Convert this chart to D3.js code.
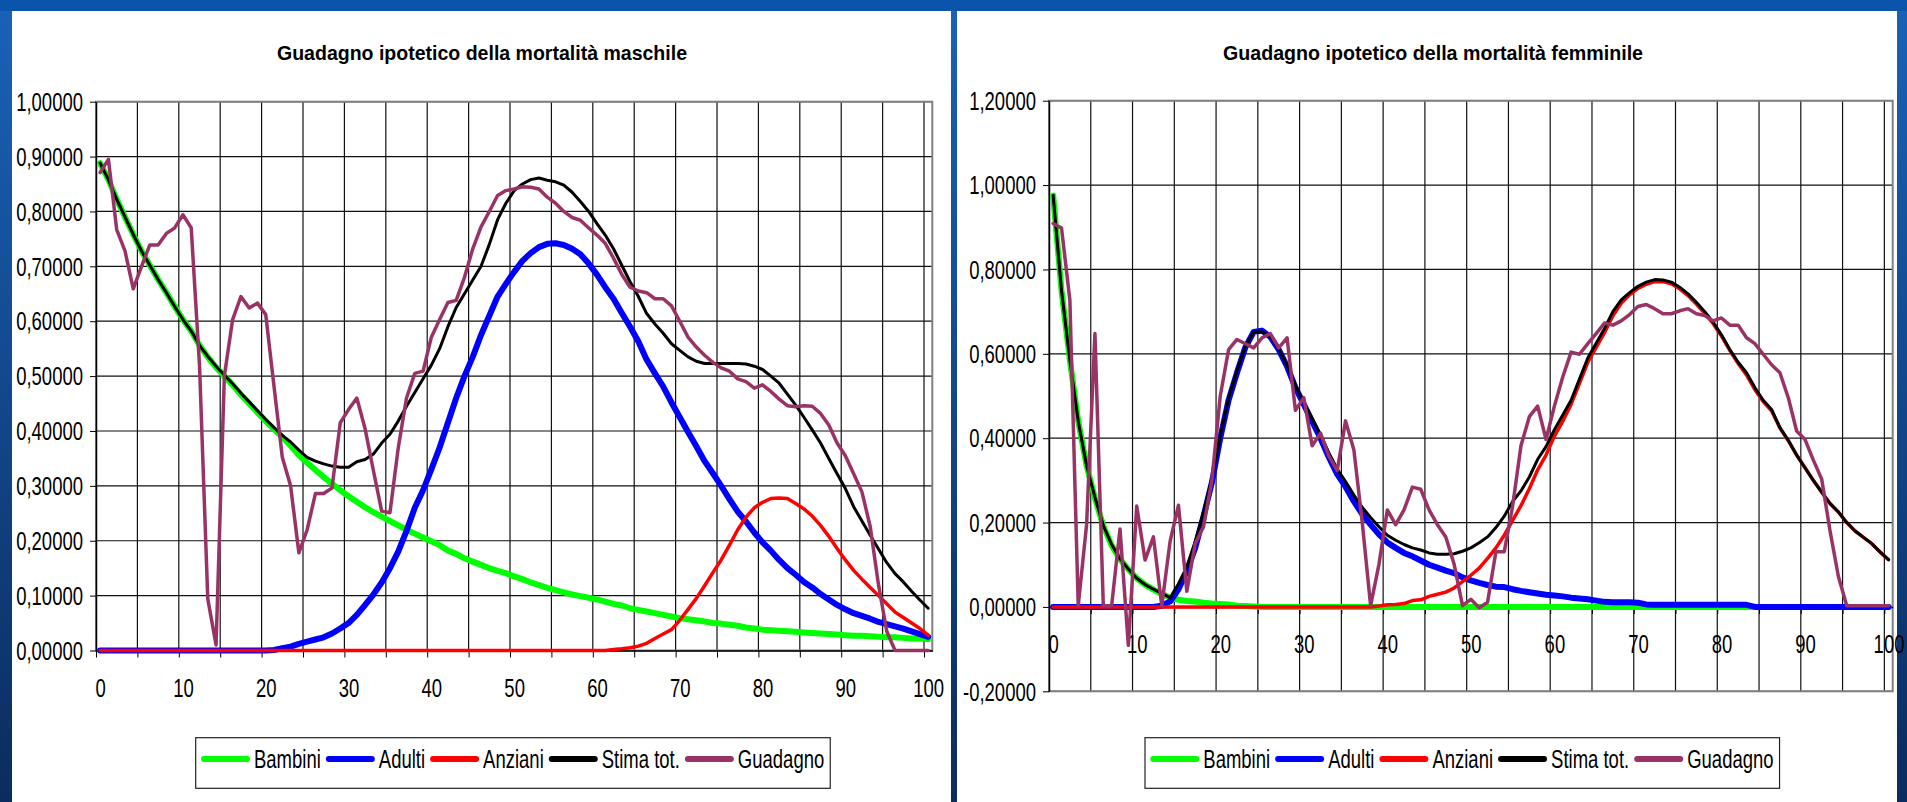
<!DOCTYPE html>
<html>
<head>
<meta charset="utf-8">
<script src="https://cdn.jsdelivr.net/npm/d3@7"></script>
<style>
  html, body { margin: 0; padding: 0; overflow: hidden; background: #0b4f9c; }
  svg { display: block; }
  text { font-family: "Liberation Sans", Arial, sans-serif; fill: #000; }
</style>
</head>
<body>
<svg id="chart" width="1907" height="802"></svg>
<script>
// età (categorie dell'asse x)
const ages = [
  0, 1, 2, 3, 4, 5, 6, 7, 8, 9,
  10, 11, 12, 13, 14, 15, 16, 17, 18, 19,
  20, 21, 22, 23, 24, 25, 26, 27, 28, 29,
  30, 31, 32, 33, 34, 35, 36, 37, 38, 39,
  40, 41, 42, 43, 44, 45, 46, 47, 48, 49,
  50, 51, 52, 53, 54, 55, 56, 57, 58, 59,
  60, 61, 62, 63, 64, 65, 66, 67, 68, 69,
  70, 71, 72, 73, 74, 75, 76, 77, 78, 79,
  80, 81, 82, 83, 84, 85, 86, 87, 88, 89,
  90, 91, 92, 93, 94, 95, 96, 97, 98, 99,
  100];
const xTickLabels = [0, 10, 20, 30, 40, 50, 60, 70, 80, 90, 100];
const yTicksM = [0, 0.1, 0.2, 0.3, 0.4, 0.5, 0.6, 0.7, 0.8, 0.9, 1.0];
const yTicksF = [-0.2, 0, 0.2, 0.4, 0.6, 0.8, 1.0, 1.2];
const seriesNames = ["Bambini", "Adulti", "Anziani", "Stima tot.", "Guadagno"];

// --- maschile ---
const bambiniM = [
  .888, .858, .822, .790, .758, .728, .702, .676, .652, .627,
  .603, .582, .556, .535, .516, .500, .484, .466, .450, .434,
  .418, .403, .389, .373, .356, .342, .329, .316, .304, .292,
  .281, .271, .261, .252, .244, .236, .228, .220, .213, .206,
  .199, .192, .182, .176, .168, .162, .156, .150, .145, .141,
  .135, .130, .124, .119, .114, .110, .106, .102, .099, .096,
  .093, .089, .085, .082, .077, .074, .071, .068, .065, .062,
  .059, .057, .055, .053, .050, .049, .047, .045, .042, .040,
  .038, .037, .036, .035, .034, .033, .032, .031, .030, .029,
  .028, .027, .027, .026, .025, .024, .024, .023, .022, .022,
  .021];
const adultiM = [
  0, 0, 0, 0, 0, 0, 0, 0, 0, 0,
  0, 0, 0, 0, 0, 0, 0, 0, 0, 0,
  0, .001, .004, .007, .012, .016, .020, .024, .031, .040,
  .050, .065, .083, .102, .124, .150, .180, .218, .260, .292,
  .330, .370, .415, .460, .500, .535, .575, .610, .645, .668,
  .690, .710, .724, .735, .741, .742, .739, .732, .722, .705,
  .685, .662, .641, .615, .590, .563, .530, .505, .481, .452,
  .425, .398, .372, .345, .323, .300, .276, .253, .235, .215,
  .197, .182, .165, .150, .138, .125, .115, .103, .093, .083,
  .075, .068, .063, .058, .052, .048, .044, .040, .035, .030,
  .025];
const anzianiM = [
  0, 0, 0, 0, 0, 0, 0, 0, 0, 0,
  0, 0, 0, 0, 0, 0, 0, 0, 0, 0,
  0, 0, 0, 0, 0, 0, 0, 0, 0, 0,
  0, 0, 0, 0, 0, 0, 0, 0, 0, 0,
  0, 0, 0, 0, 0, 0, 0, 0, 0, 0,
  0, 0, 0, 0, 0, 0, 0, 0, 0, 0,
  0, 0, .002, .003, .005, .008, .013, .022, .030, .038,
  .055, .075, .095, .118, .142, .165, .192, .220, .243, .260,
  .270, .277, .278, .277, .268, .258, .245, .228, .208, .186,
  .165, .146, .130, .115, .100, .085, .070, .060, .050, .040,
  .028];
const stimaM = [
  .888, .858, .822, .790, .758, .728, .702, .676, .652, .627,
  .603, .582, .556, .536, .518, .502, .486, .469, .453, .437,
  .421, .406, .392, .380, .365, .352, .345, .340, .336, .334,
  .334, .344, .348, .358, .378, .394, .418, .445, .470, .495,
  .520, .550, .590, .625, .650, .675, .700, .740, .785, .815,
  .838, .850, .858, .861, .857, .854, .848, .835, .818, .800,
  .778, .757, .732, .702, .672, .645, .614, .595, .578, .559,
  .547, .535, .527, .523, .523, .523, .523, .523, .522, .518,
  .512, .500, .487, .467, .447, .425, .402, .378, .350, .322,
  .295, .262, .236, .210, .185, .160, .140, .125, .108, .092,
  .077];
const guadagnoM = [
  .871, .895, .767, .728, .659, .700, .739, .739, .760, .770,
  .794, .770, .520, .094, .010, .500, .603, .645, .624, .633,
  .612, .481, .352, .300, .178, .220, .286, .286, .296, .415,
  .439, .460, .404, .328, .254, .251, .369, .460, .505, .509,
  .571, .603, .634, .638, .680, .732, .772, .800, .829, .838,
  .841, .845, .844, .841, .826, .815, .800, .789, .784, .770,
  .757, .742, .715, .685, .662, .655, .652, .641, .641, .628,
  .600, .571, .553, .538, .525, .515, .509, .495, .490, .478,
  .484, .472, .458, .446, .444, .446, .445, .432, .411, .378,
  .355, .322, .289, .226, .120, .035, 0, 0, 0, 0,
  0];

// --- femminile ---
const bambiniF = [
  .975, .750, .585, .440, .335, .258, .192, .146, .113, .089,
  .068, .053, .041, .031, .022, .017, .014, .013, .010, .008,
  .007, .006, .003, .002, .001, 0, 0, 0, 0, 0,
  0, 0, 0, 0, 0, 0, 0, 0, 0, 0,
  0, 0, 0, 0, 0, 0, 0, 0, 0, 0,
  0, 0, 0, 0, 0, 0, 0, 0, 0, 0,
  0, 0, 0, 0, 0, 0, 0, 0, 0, 0,
  0, 0, 0, 0, 0, 0, 0, 0, 0, 0,
  0, 0, 0, 0, 0, 0, 0, 0, 0, 0,
  0, 0, 0, 0, 0, 0, 0, 0, 0, 0,
  0];
const adultiF = [
  0, 0, 0, 0, 0, 0, 0, 0, 0, 0,
  0, 0, 0, .003, .013, .042, .085, .140, .215, .295,
  .400, .490, .555, .615, .652, .655, .640, .610, .570, .520,
  .480, .440, .400, .355, .315, .285, .250, .220, .195, .172,
  .153, .140, .128, .120, .110, .100, .093, .086, .080, .070,
  .063, .057, .052, .048, .047, .042, .038, .035, .032, .029,
  .027, .025, .022, .020, .018, .015, .012, .011, .011, .011,
  .010, .006, .005, .005, .005, .005, .005, .005, .005, .005,
  .005, .005, .005, .005, 0, 0, 0, 0, 0, 0,
  0, 0, 0, 0, 0, 0, 0, 0, 0, 0,
  0];
const anzianiF = [
  0, 0, 0, 0, 0, 0, 0, 0, 0, 0,
  0, 0, 0, 0, 0, 0, 0, 0, 0, 0,
  0, 0, 0, 0, 0, 0, 0, 0, 0, 0,
  0, 0, 0, 0, 0, 0, 0, 0, 0, .002,
  .005, .006, .008, .015, .017, .025, .030, .035, .045, .060,
  .075, .092, .115, .140, .170, .205, .240, .280, .325, .360,
  .405, .440, .480, .530, .580, .615, .650, .690, .720, .740,
  .755, .765, .771, .771, .766, .754, .738, .718, .696, .672,
  .642, .608, .577, .550, .515, .487, .465, .424, .394, .360,
  .330, .300, .272, .245, .225, .200, .180, .165, .150, .130,
  .112];
const stimaF = [
  .975, .750, .585, .440, .335, .260, .193, .148, .114, .090,
  .068, .053, .042, .032, .022, .055, .095, .155, .225, .305,
  .405, .495, .560, .618, .652, .652, .642, .612, .573, .525,
  .485, .447, .408, .365, .327, .297, .265, .236, .212, .190,
  .170, .158, .148, .140, .135, .128, .125, .125, .126, .132,
  .140, .152, .166, .188, .215, .250, .275, .308, .350, .380,
  .420, .455, .490, .540, .590, .625, .660, .700, .728, .745,
  .760, .770, .776, .775, .770, .758, .742, .722, .700, .675,
  .645, .610, .580, .555, .520, .490, .468, .425, .395, .360,
  .330, .300, .272, .245, .225, .200, .180, .165, .150, .130,
  .112];
const guadagnoF = [
  .909, .898, .727, .003, .195, .648, .003, .003, .185, -.091,
  .239, .111, .166, .003, .156, .241, .037, .150, .190, .300,
  .500, .610, .634, .624, .614, .638, .648, .614, .638, .466,
  .496, .382, .412, .358, .323, .441, .372, .200, .003, .101,
  .230, .195, .230, .284, .279, .230, .195, .166, .101, .003,
  .018, -.002, .011, .131, .131, .239, .382, .451, .476, .397,
  .476, .545, .604, .599, .624, .648, .673, .668, .678, .693,
  .712, .717, .707, .695, .695, .702, .707, .695, .691, .678,
  .685, .668, .668, .638, .624, .599, .574, .555, .496, .417,
  .397, .348, .303, .180, .072, .003, .003, .003, .003, .003,
  .003];

// stili delle serie (ordine di disegno come in Excel)
const seriesStyle = [
  {color: "#00ff00", width: 6},
  {color: "#0000ff", width: 6},
  {color: "#ff0000", width: 3.5},
  {color: "#000000", width: 3},
  {color: "#993366", width: 3.5}
];

const charts = [
  {
    title: "Guadagno ipotetico della mortalità maschile",
    series: [bambiniM, adultiM, anzianiM, stimaM, guadagnoM],
    yDomain: [0, 1], yTicks: yTicksM,
    left: 96, right: 932.3, top: 101.7, bottom: 650.5,
    titleX: 482, titleW: 410, legendX: 195.7
  },
  {
    title: "Guadagno ipotetico della mortalità femminile",
    series: [bambiniF, adultiF, anzianiF, stimaF, guadagnoF],
    yDomain: [-0.2, 1.2], yTicks: yTicksF,
    left: 1049, right: 1892.7, top: 100.7, bottom: 691.3,
    titleX: 1433, titleW: 420, legendX: 1145
  }
];

const sx = 0.74;       // testo "stretto" come nel grafico Excel
const fontSize = 25;
const fmt = d3.formatLocale({decimal: ",", thousands: ".", grouping: [3], currency: ["", ""], minus: "-"}).format(".5f");

const svg = d3.select("#chart");

// sfondo finestra
const defs = svg.append("defs");
const grad = defs.append("linearGradient").attr("id", "bg").attr("x1", 0).attr("x2", 0).attr("y1", 0).attr("y2", 1);
grad.append("stop").attr("offset", "0%").attr("stop-color", "#1a62b8");
grad.append("stop").attr("offset", "100%").attr("stop-color", "#0b2c5e");
svg.append("rect").attr("width", 1907).attr("height", 802).attr("fill", "url(#bg)");
svg.append("rect").attr("width", 1907).attr("height", 11).attr("fill", "#0a55ab");
svg.append("rect").attr("x", 12).attr("y", 11).attr("width", 939).attr("height", 791).attr("fill", "#fff");
svg.append("rect").attr("x", 957).attr("y", 11).attr("width", 940).attr("height", 791).attr("fill", "#fff");

function drawChart(cfg) {
  const x = d3.scaleLinear().domain([-0.5, 100.5]).range([cfg.left, cfg.right]);
  const y = d3.scaleLinear().domain(cfg.yDomain).range([cfg.bottom, cfg.top]);
  const g = svg.append("g");
  const gridX = d3.range(-0.5, 100, 5);

  // griglia
  g.append("g").selectAll("line").data(cfg.yTicks).join("line")
    .attr("x1", cfg.left).attr("x2", cfg.right)
    .attr("y1", d => y(d)).attr("y2", d => y(d))
    .attr("stroke", "#111").attr("stroke-width", 1.2);
  g.append("g").selectAll("line").data(gridX).join("line")
    .attr("x1", d => x(d)).attr("x2", d => x(d))
    .attr("y1", cfg.top).attr("y2", cfg.bottom)
    .attr("stroke", "#111").attr("stroke-width", 1.2);
  g.append("rect")
    .attr("x", cfg.left).attr("y", cfg.top)
    .attr("width", cfg.right - cfg.left).attr("height", cfg.bottom - cfg.top)
    .attr("fill", "none").attr("stroke", "#808080").attr("stroke-width", 2);

  // asse y
  g.append("g")
    .attr("transform", `translate(${cfg.left},0)`)
    .call(d3.axisLeft(y).tickValues(cfg.yTicks).tickFormat(fmt).tickSize(6).tickSizeOuter(0))
    .call(a => a.select(".domain").attr("stroke", "#000").attr("stroke-width", 1.5))
    .call(a => a.selectAll(".tick line").attr("stroke", "#000"))
    .call(a => a.selectAll("text")
      .attr("font-size", fontSize).attr("fill", "#000")
      .attr("x", -13 / sx).attr("dy", "0.35em")
      .attr("transform", `scale(${sx},1)`));

  // asse x: tacche ai confini delle categorie, etichette al centro
  g.append("g")
    .attr("transform", `translate(0,${y(0)})`)
    .call(d3.axisBottom(x).tickValues(gridX).tickFormat("").tickSize(7).tickSizeOuter(0))
    .call(a => a.select(".domain").attr("stroke", "#000").attr("stroke-width", 1.5))
    .call(a => a.selectAll(".tick line").attr("stroke", "#000"));
  g.append("g")
    .attr("transform", `translate(0,${y(0)})`)
    .call(d3.axisBottom(x).tickValues(xTickLabels).tickSize(0))
    .call(a => a.select(".domain").remove())
    .call(a => a.selectAll("text")
      .attr("font-size", fontSize).attr("fill", "#000")
      .attr("y", 46.5).attr("dy", 0)
      .attr("transform", `scale(${sx},1)`));

  // serie
  const line = d3.line().x((d, i) => x(ages[i])).y(d => y(d));
  cfg.series.forEach((s, i) => {
    g.append("path")
      .datum(s)
      .attr("fill", "none")
      .attr("stroke", seriesStyle[i].color)
      .attr("stroke-width", seriesStyle[i].width)
      .attr("stroke-linejoin", "round")
      .attr("stroke-linecap", "round")
      .attr("d", line);
  });

  // titolo
  g.append("text")
    .attr("x", cfg.titleX).attr("y", 60)
    .attr("text-anchor", "middle")
    .attr("font-size", 21).attr("font-weight", "bold")
    .attr("textLength", cfg.titleW).attr("lengthAdjust", "spacingAndGlyphs")
    .text(cfg.title);

  // legenda
  const lg = g.append("g");
  const box = lg.append("rect")
    .attr("x", cfg.legendX).attr("y", 737.7).attr("height", 50.6)
    .attr("fill", "#fff").attr("stroke", "#222").attr("stroke-width", 1.2);
  let cx = cfg.legendX + 8.3;
  seriesNames.forEach((name, i) => {
    lg.append("line")
      .attr("x1", cx).attr("x2", cx + 43).attr("y1", 759).attr("y2", 759)
      .attr("stroke", seriesStyle[i].color).attr("stroke-width", 6)
      .attr("stroke-linecap", "round");
    cx += 43 + 7;
    const t = lg.append("text")
      .attr("transform", `translate(${cx},768) scale(${sx},1)`)
      .attr("font-size", fontSize)
      .text(name);
    cx += t.node().getComputedTextLength() * sx + 8;
  });
  box.attr("width", cx - 2 - cfg.legendX);
}

charts.forEach(drawChart);
</script>
</body>
</html>
